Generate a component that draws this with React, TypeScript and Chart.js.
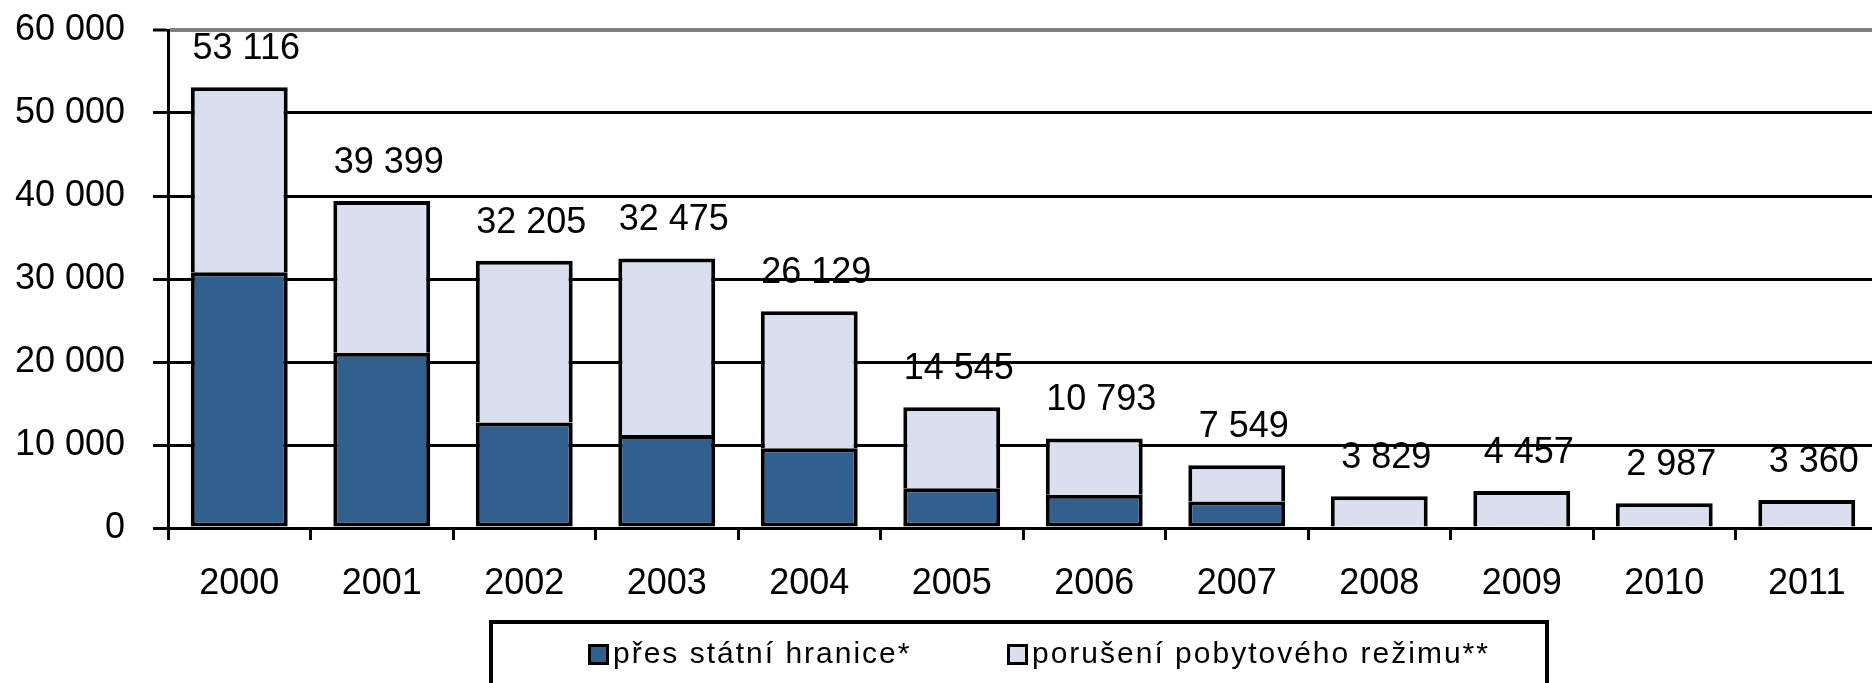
import React, { useEffect, useRef } from 'react';
import { Chart, registerables } from 'chart.js';

Chart.register(...registerables);

const years = ['2000', '2001', '2002', '2003', '2004', '2005', '2006', '2007', '2008', '2009', '2010', '2011'];
const totals = [53116, 39399, 32205, 32475, 26129, 14545, 10793, 7549, 3829, 4457, 2987, 3360];
const borderCrossing = [30800, 21100, 12700, 11200, 9600, 4800, 4000, 3200, 0, 0, 0, 0];
const residenceViolation = totals.map((t, i) => t - borderCrossing[i]);
const yTickValues = [0, 10000, 20000, 30000, 40000, 50000, 60000];
const seriesNames = ['přes státní hranice*', 'porušení pobytového režimu**'];

const DARK = '#31608F';
const LIGHT = '#D9DFEE';
const FONT = '"Liberation Sans", Arial, sans-serif';

const fmt = (n: number) => String(n).replace(/\B(?=(\d{3})+(?!\d))/g, ' ');

const totalsPlugin = {
  id: 'totalsLabels',
  afterDatasetsDraw(chart: any) {
    const ctx = chart.ctx;
    const meta = chart.getDatasetMeta(1);
    ctx.save();
    ctx.font = `36px ${FONT}`;
    ctx.fillStyle = '#000';
    ctx.textAlign = 'center';
    ctx.textBaseline = 'middle';
    meta.data.forEach((el: any, i: number) => {
      ctx.fillText(fmt(totals[i]), el.x + 7, el.y - 38);
    });
    ctx.restore();
  },
};

const legendBoxPlugin = {
  id: 'legendBox',
  afterDraw(chart: any) {
    const ctx = chart.ctx;
    ctx.save();
    ctx.strokeStyle = '#000';
    ctx.lineWidth = 4;
    ctx.strokeRect(491, 622, 1056, 200);
    ctx.font = `30px ${FONT}`;
    try { (ctx as any).letterSpacing = '2px'; } catch (e) {}
    ctx.textBaseline = 'alphabetic';
    ctx.textAlign = 'left';
    const starts = [588, 1007];
    chart.data.datasets.forEach((ds: any, i: number) => {
      const x = starts[i];
      ctx.fillStyle = ds.backgroundColor;
      ctx.fillRect(x, 644, 21, 21);
      ctx.lineWidth = 3;
      ctx.strokeRect(x + 1.5, 645.5, 18, 18);
      ctx.fillStyle = '#000';
      ctx.fillText(ds.label, x + 25, 663);
    });
    ctx.restore();
  },
};

export default function App() {
  const ref = useRef<HTMLCanvasElement | null>(null);
  useEffect(() => {
    if (!ref.current) return;
    Chart.defaults.color = '#000';
    const chart = new Chart(ref.current, {
      type: 'bar',
      data: {
        labels: years,
        datasets: [
          {
            label: seriesNames[0],
            data: borderCrossing,
            backgroundColor: DARK,
            borderColor: '#000',
            borderWidth: 4,
            borderSkipped: false,
            barPercentage: 0.68,
            categoryPercentage: 1,
          },
          {
            label: seriesNames[1],
            data: residenceViolation,
            backgroundColor: LIGHT,
            borderColor: '#000',
            borderWidth: 4,
            borderSkipped: 'start',
            barPercentage: 0.68,
            categoryPercentage: 1,
          },
        ],
      },
      options: {
        responsive: false,
        animation: false,
        devicePixelRatio: 1,
        layout: { padding: { top: 30, right: 12, left: 0, bottom: 0 } },
        plugins: {
          legend: { display: false },
          tooltip: { enabled: false },
        },
        scales: {
          x: {
            stacked: true,
            afterFit(scale: any) {
              scale.height = 155;
              scale.paddingLeft = 0;
              scale.paddingRight = 0;
            },
            grid: {
              drawOnChartArea: false,
              drawTicks: true,
              tickLength: 12,
              color: '#000',
              lineWidth: 3,
              offset: true,
            },
            border: { display: true, color: '#000', width: 3 },
            ticks: {
              font: { family: FONT, size: 36 },
              color: '#000',
              padding: 22,
              maxRotation: 0,
              autoSkip: false,
            },
          },
          y: {
            stacked: true,
            min: 0,
            max: 60000,
            afterFit(scale: any) {
              scale.width = 168;
              scale.paddingTop = 0;
              scale.paddingBottom = 0;
            },
            afterBuildTicks(scale: any) { scale.ticks = yTickValues.map((v) => ({ value: v })); },
            grid: {
              color: (c: any) => (c.tick && c.tick.value === 60000 ? '#808080' : '#000'),
              lineWidth: (c: any) => (c.tick && c.tick.value === 60000 ? 4 : 3),
              tickColor: '#000',
              tickWidth: 3,
              tickLength: 15,
              drawTicks: true,
            },
            border: { display: true, color: '#000', width: 3 },
            ticks: {
              font: { family: FONT, size: 36 },
              color: '#000',
              padding: 28,
              callback: (v: any) => fmt(Number(v)),
            },
          },
        },
      },
      plugins: [totalsPlugin, legendBoxPlugin],
    });
    return () => chart.destroy();
  }, []);
  return (
    <div style={{ position: 'fixed', left: 0, top: 0, width: 1872, height: 683, overflow: 'hidden', background: '#fff' }}>
      <canvas ref={ref} width={1890} height={683} style={{ width: 1890, height: 683, display: 'block' }} />
    </div>
  );
}
